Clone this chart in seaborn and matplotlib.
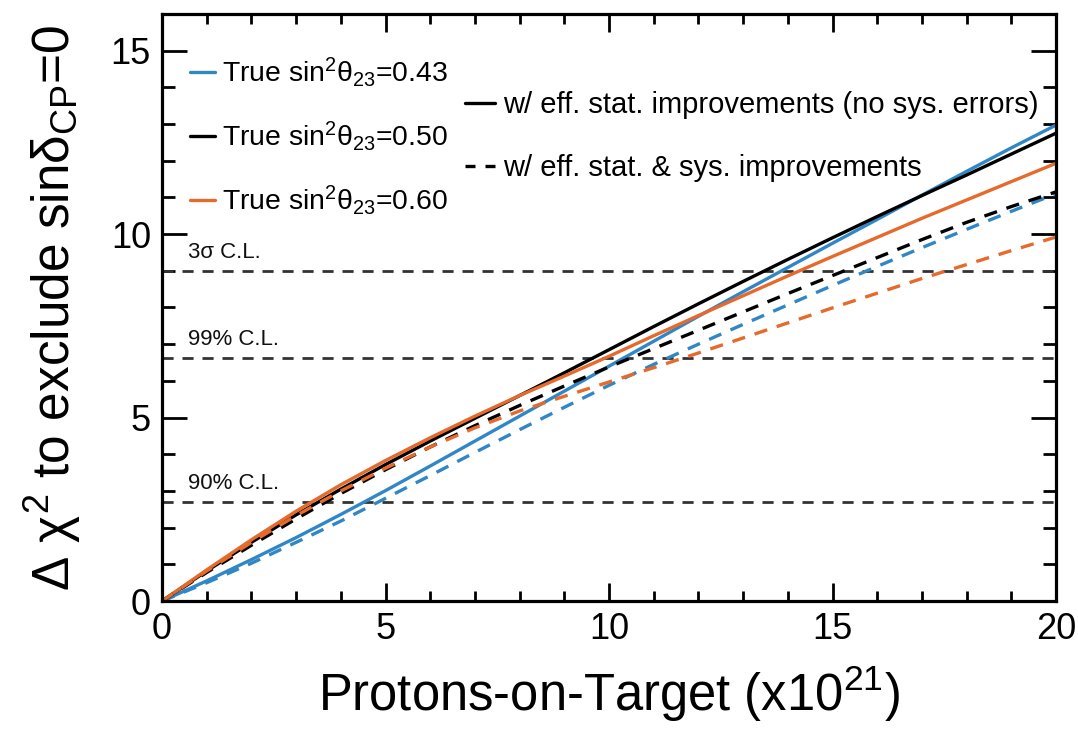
import numpy as np
import pandas as pd
import matplotlib
matplotlib.use("Agg")
import matplotlib.pyplot as plt
from matplotlib.lines import Line2D
from matplotlib.ticker import MultipleLocator
import seaborn as sns

# ---------------- data ----------------
pot = [0, 1, 2, 3, 4, 5, 6, 7, 8, 9, 10, 11, 12, 13, 14, 15, 16, 17, 18, 19, 20]

# solid: w/ eff. stat. improvements (no sys. errors)
blue_solid   = [0, 0.55, 1.13, 1.73, 2.36, 3.01, 3.68, 4.36, 5.04, 5.72, 6.40, 7.08, 7.76, 8.43, 9.09, 9.75, 10.40, 11.06, 11.71, 12.35, 12.97]
black_solid  = [0, 0.82, 1.60, 2.35, 3.05, 3.72, 4.36, 4.98, 5.60, 6.22, 6.85, 7.48, 8.10, 8.71, 9.31, 9.90, 10.48, 11.05, 11.61, 12.18, 12.75]
orange_solid = [0, 0.85, 1.67, 2.45, 3.17, 3.83, 4.45, 5.04, 5.60, 6.13, 6.67, 7.23, 7.78, 8.32, 8.86, 9.39, 9.91, 10.43, 10.93, 11.43, 11.93]

# dashed: w/ eff. stat. & sys. improvements
blue_dash    = [0, 0.50, 1.03, 1.60, 2.18, 2.80, 3.42, 4.05, 4.67, 5.28, 5.88, 6.45, 7.00, 7.54, 8.07, 8.60, 9.12, 9.63, 10.13, 10.62, 11.10]
black_dash   = [0, 0.78, 1.52, 2.24, 2.93, 3.58, 4.20, 4.78, 5.33, 5.86, 6.38, 6.88, 7.38, 7.88, 8.38, 8.87, 9.36, 9.85, 10.32, 10.75, 11.15]
orange_dash  = [0, 0.82, 1.60, 2.33, 3.00, 3.62, 4.20, 4.72, 5.18, 5.58, 5.97, 6.36, 6.76, 7.17, 7.58, 7.99, 8.39, 8.79, 9.17, 9.55, 9.92]

cl_values = [2.71, 6.63, 9.0]
cl_labels = ["90% C.L.", "99% C.L.", "3\u03c3 C.L."]

theta_labels = [r"True sin$^{2}\theta_{23}$=0.43",
                r"True sin$^{2}\theta_{23}$=0.50",
                r"True sin$^{2}\theta_{23}$=0.60"]
style_labels = ["w/ eff. stat. improvements (no sys. errors)",
                "w/ eff. stat. & sys. improvements"]

x_ticks = [0, 5, 10, 15, 20]
y_ticks = [0, 5, 10, 15]

# ---------------- style ----------------
sns.set_theme(style="ticks")
plt.rcParams["font.family"] = ["Liberation Sans", "DejaVu Sans"]
plt.rcParams["mathtext.fontset"] = "custom"
plt.rcParams["mathtext.rm"] = "Liberation Sans"
plt.rcParams["mathtext.it"] = "Liberation Sans"
plt.rcParams["mathtext.bf"] = "Liberation Sans:bold"
plt.rcParams["text.color"] = "black"
plt.rcParams["axes.labelcolor"] = "black"
plt.rcParams["xtick.color"] = "black"
plt.rcParams["ytick.color"] = "black"

BLUE = "#3187C6"
ORANGE = "#E56A2B"
BLACK = "#000000"
LW = 2.4
DASH = (0, (4, 3))

fig = plt.figure(figsize=(10.78, 7.33), dpi=100)
ax = fig.add_axes([0.1503, 0.180, 0.8293, 0.801])

series = [
    (blue_solid, BLUE, "-"), (black_solid, BLACK, "-"), (orange_solid, ORANGE, "-"),
    (blue_dash, BLUE, DASH), (black_dash, BLACK, DASH), (orange_dash, ORANGE, DASH),
]
for vals, col, ls in series:
    df = pd.DataFrame({"pot": pot, "chi2": vals})
    sns.lineplot(data=df, x="pot", y="chi2", color=col, linestyle=ls, lw=LW,
                 ax=ax, legend=False)

for v, lab in zip(cl_values, cl_labels):
    ax.axhline(v, color="#333333", lw=2.0, linestyle=(0, (4, 3.2)), zorder=1)
    ax.text(0.58, v + 0.22, lab, fontsize=16, color="#111111", ha="left", va="bottom")

ax.set_xlim(0, 20)
ax.set_ylim(0, 16)
ax.set_xticks(x_ticks)
ax.set_yticks(y_ticks)
ax.xaxis.set_minor_locator(MultipleLocator(1))
ax.yaxis.set_minor_locator(MultipleLocator(1))
ax.tick_params(axis="both", which="both", direction="in", top=True, right=True,
               colors="black", width=2.0, labelsize=26)
ax.tick_params(axis="x", which="major", length=13, pad=8)
ax.tick_params(axis="x", which="minor", length=7)
ax.tick_params(axis="y", which="major", length=18, pad=8)
ax.tick_params(axis="y", which="minor", length=9.5)
for sp in ax.spines.values():
    sp.set_linewidth(2.3)
    sp.set_color("black")

ax.set_xlabel(r"Protons-on-Target (x10$^{21}$)", fontsize=36.5, labelpad=12)
ax.set_ylabel(r"$\Delta$ $\chi^{2}$ to exclude sin$\delta_{\rm CP}$=0", fontsize=37, labelpad=20)

h1 = [Line2D([], [], color=c, lw=LW) for c in (BLUE, BLACK, ORANGE)]
leg1 = ax.legend(h1, theta_labels, loc="upper left", bbox_to_anchor=(0.031, 0.929),
                 frameon=False, fontsize=20.4, handlelength=0.9, handletextpad=0.25,
                 labelspacing=1.06, borderpad=0, borderaxespad=0)
ax.add_artist(leg1)
h2 = [Line2D([], [], color=BLACK, lw=LW), Line2D([], [], color=BLACK, lw=LW, linestyle=(0, (3, 3)))]
ax.legend(h2, style_labels, loc="upper left", bbox_to_anchor=(0.339, 0.868),
          frameon=False, fontsize=21, handlelength=1.03, handletextpad=0.27,
          labelspacing=1.2, borderpad=0, borderaxespad=0)

fig.savefig("out.png", dpi=100)
